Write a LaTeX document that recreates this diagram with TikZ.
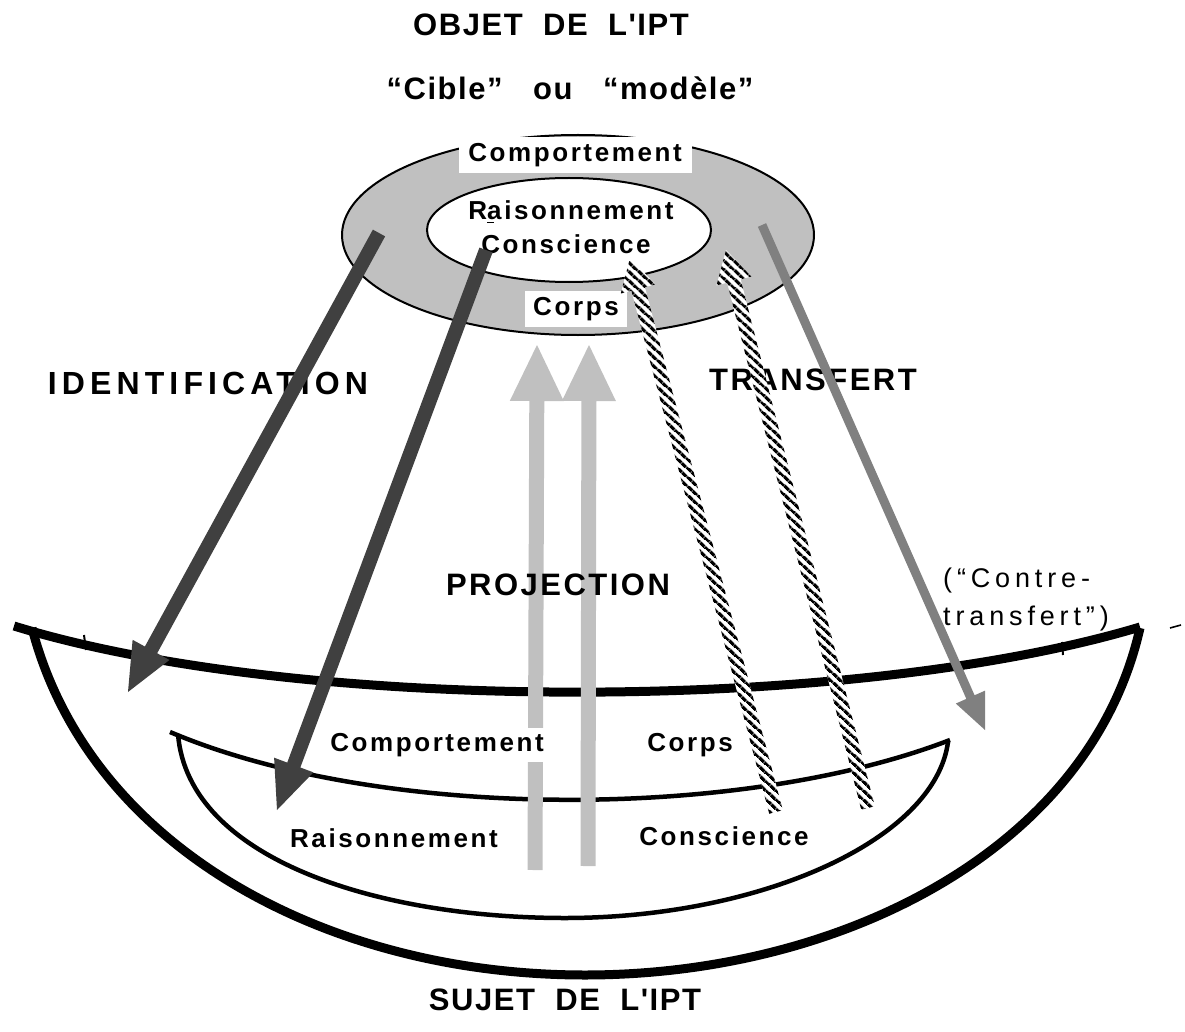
\documentclass[tikz,border=0pt]{standalone}
\usepackage{fontspec}
\setmainfont{Liberation Sans}
\newfontfamily\titlefont{Liberation Sans}[LetterSpace=5]
\newfontfamily\labelfont{Liberation Sans}[LetterSpace=10]
\newfontfamily\headfont{Liberation Sans}[LetterSpace=8]
\newfontfamily\identfont{Liberation Sans}[LetterSpace=16]
\newfontfamily\notefont{Liberation Sans}[LetterSpace=18]
\usetikzlibrary{calc,patterns.meta,shapes.geometric}

\definecolor{ringgray}{HTML}{C0C0C0}
\definecolor{darkarrow}{HTML}{404040}
\definecolor{lightarrow}{HTML}{C0C0C0}
\definecolor{midarrow}{HTML}{808080}

% block arrow: #1 style, #2 tail, #3 tip, #4 half shaft, #5 half head, #6 head length
\newcommand\blockarrow[6]{%
  \coordinate (bah) at ($(#3)!#6!(#2)$);
  \path[#1] ($(#2)!#4!90:(#3)$) -- ($(bah)!#4!-90:(#2)$) -- ($(bah)!#5!-90:(#2)$)
    -- (#3) -- ($(bah)!#5!90:(#2)$) -- ($(bah)!#4!90:(#2)$) -- ($(#2)!#4!-90:(#3)$) -- cycle;
}

\begin{document}
\begin{tikzpicture}[x=1pt,y=-1pt,
  titletext/.style={font=\titlefont\bfseries\fontsize{31}{36}\selectfont, inner sep=0pt},
  lbl/.style={font=\labelfont\bfseries\fontsize{26}{30}\selectfont, inner sep=0pt},
  headtext/.style={font=\headfont\bfseries\fontsize{31}{36}\selectfont, inner sep=0pt},
  identtext/.style={font=\identfont\bfseries\fontsize{32}{36}\selectfont, inner sep=0pt},
  notetext/.style={font=\notefont\fontsize{27}{38}\selectfont, inner sep=0pt, align=left},
  whitebox/.style={lbl, fill=white, inner xsep=4pt, inner ysep=6pt},
  outerline/.style={line width=9pt, line join=miter},
  innerline/.style={line width=4.5pt, line join=miter},
  darkfill/.style={fill=darkarrow},
  lightfill/.style={fill=lightarrow},
  midfill/.style={fill=midarrow},
  hatched/.style={fill=white,
    postaction={pattern={Lines[angle=-42,distance=6.5pt,line width=3.2pt]}}},
]
\useasboundingbox (0,0) rectangle (1185,1032);

% ---- titles
\node[titletext] (objet) at (551,25) {OBJET\ \ DE\ \ L'IPT};
\node[titletext] (cible) at (570,88) {“Cible”\ \ \ ou\ \ \ “modèle”};
\node[titletext] (sujet) at (565,1000) {SUJET\ \ DE\ \ L'IPT};

% ---- object of the IPT: ring and core
\node[draw, line width=2pt, fill=ringgray, ellipse, minimum width=472, minimum height=200, inner sep=0pt] (ring) at (578,235) {};
\node[draw, line width=2pt, fill=white, ellipse, minimum width=284, minimum height=104, inner sep=0pt] (core) at (569,230) {};
\node[whitebox, minimum width=233, minimum height=35] (o-comp) at (575,155) {Comportement};
\node[lbl] (o-rais) at (571,212) {R\rlap{\raisebox{-4pt}{\rule{7pt}{1.6pt}}}aisonnement};
\node[lbl] (o-cons) at (566,244) {Conscience};
\node[whitebox, minimum width=102, minimum height=33] (o-corps) at (576,309) {Corps};

% ---- subject of the IPT: two bowls
\draw[outerline] (14,626) .. controls (300,714) and (850,714) .. (1140,627);
\draw[outerline] (32,628) .. controls (90,850) and (330,975) .. (585,975)
  .. controls (840,975) and (1090,850) .. (1140,628);
\draw[line width=2pt] (84,635) -- (86,650);
\draw[line width=2pt] (1062,642) -- (1063,655);
\draw[line width=1.6pt] (1170,628) -- (1181,625);
\draw[innerline] (170,732) .. controls (380,821) and (740,821) .. (950,740);
\draw[innerline] (178,734) .. controls (188,860) and (380,918) .. (565,918)
  .. controls (760,918) and (935,840) .. (948,742);

% ---- side labels (drawn under the arrows)
\node[identtext] (ident) at (208,383) {IDENTIFICATION};
\node[headtext] (transfert) at (813,380) {TRANSFERT};

% ---- arrow end points
\coordinate (id-a) at (379,233);  \coordinate (id-b) at (128,692);
\coordinate (ra-a) at (486,250);  \coordinate (ra-b) at (277,810);
\coordinate (pl-a) at (535,870);  \coordinate (pl-b) at (537,345);
\coordinate (pr-a) at (588,866);  \coordinate (pr-b) at (589,345);
\coordinate (ha-a) at (776,812);  \coordinate (ha-b) at (630,258);
\coordinate (hb-a) at (868,808);  \coordinate (hb-b) at (726,250);
\coordinate (ct-a) at (762,225);  \coordinate (ct-b) at (985,730);

% identification
\blockarrow{darkfill}{id-a}{id-b}{7pt}{21pt}{48pt}
\blockarrow{darkfill}{ra-a}{ra-b}{7pt}{21pt}{48pt}
% projection
\blockarrow{lightfill}{pl-a}{pl-b}{7.5pt}{27pt}{56pt}
\blockarrow{lightfill}{pr-a}{pr-b}{7.5pt}{27pt}{56pt}
% transfert
\blockarrow{hatched}{ha-a}{ha-b}{7pt}{18pt}{32pt}
\blockarrow{hatched}{hb-a}{hb-b}{7pt}{18pt}{32pt}
% contre-transfert
\blockarrow{midfill}{ct-a}{ct-b}{4.5pt}{16pt}{36pt}

% ---- labels over the arrows
\node[headtext] (projection) at (558,585) {PROJECTION};
\node[notetext, anchor=west] (contre) at (943,600) {(“Contre-\\transfert”)};
\node[lbl, fill=white, inner ysep=5pt, inner xsep=1pt] (s-comp) at (437,745) {Comportement};
\node[lbl] (s-corps) at (690,745) {Corps};
\node[lbl] (s-rais) at (394,838) {Raisonnement};
\node[lbl] (s-cons) at (724,836) {Conscience};
\end{tikzpicture}
\end{document}
